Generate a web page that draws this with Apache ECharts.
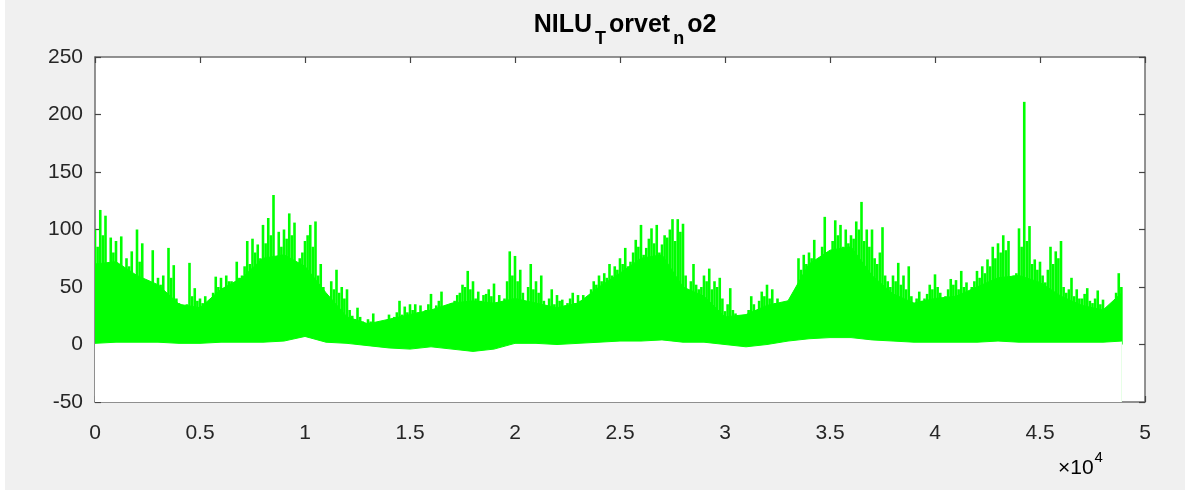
<!DOCTYPE html>
<html><head><meta charset="utf-8">
<script src="https://cdn.jsdelivr.net/npm/echarts@6/dist/echarts.min.js"></script>
<style>html,body{margin:0;padding:0;background:#f0f0f0;}#c{width:1185px;height:490px;}</style>
</head><body><div id="c"></div>
<script>
// ---- data ----
const peakStep = 250; // sample index spacing of the spike readings
// tallest spike in each 250-sample slot (slot start)
const peaks = [
 100,117,112,93,90,94,75,81,100,88,56,82,58,60,84,69,36,33,71,49,
 40,42,33,59,58,60,55,72,60,90,92,87,104,110,130,98,100,114,106,75,
 90,104,107,70,43,55,65,50,48,25,32,20,22,27,19,20,26,24,38,33,
 35,35,34,30,44,34,46,34,36,43,52,64,55,46,43,48,53,43,40,81,
 77,65,36,70,55,60,33,48,43,39,36,45,43,43,40,55,60,62,70,68,
 75,84,72,91,104,84,101,104,87,93,109,109,105,46,70,48,60,66,55,58,
 29,49,27,19,20,42,30,46,52,48,40,22,35,25,75,78,80,91,72,111,
 72,108,104,100,95,107,124,100,100,70,102,55,60,71,60,68,35,46,40,52,
 61,45,42,57,56,64,54,50,64,68,74,85,88,95,90,60,101,211,103,74,
 72,54,85,81,90,45,58,48,40,49,36,47,39,28,34,62
];
// secondary spike level in the middle of each slot
const subPeaks = [
 85,95,28,80,70,65,68,60,72,55,50,48,52,45,58,40,30,35,42,38,
 36,30,45,50,48,55,50,58,68,70,80,75,88,95,50,85,92,95,70,80,
 95,85,60,50,40,48,45,40,30,22,24,18,20,18,17,19,22,28,26,28,
 30,28,26,35,30,38,30,32,38,45,50,48,40,38,44,42,36,34,55,60,
 55,45,50,48,45,38,40,35,38,34,40,36,38,30,48,52,55,58,60,65,
 70,68,80,85,78,92,88,80,95,100,90,98,60,55,52,50,55,48,50,40,
 35,30,22,18,30,35,38,42,40,36,30,25,28,40,65,70,75,68,85,80,
 90,95,85,88,92,100,90,85,75,80,60,50,55,52,48,42,40,38,44,48,
 50,40,48,52,48,50,45,55,58,62,68,75,80,82,55,62,85,90,70,65,
 60,65,70,75,50,48,42,40,44,38,40,35,30,32,45,50
];
// solid (dense) part of the trace: top and bottom, every 1000 samples
const bandX = [0,1000,2000,3000,4000,5000,6000,7000,8000,9000,10000,11000,12000,13000,14000,15000,16000,17000,18000,19000,20000,21000,22000,23000,24000,25000,26000,27000,28000,29000,30000,31000,32000,33000,34000,35000,36000,37000,38000,39000,40000,41000,42000,43000,44000,45000,46000,47000,48000,48900];
const bandTop = [70,72,60,52,35,32,48,58,75,78,68,45,24,18,22,26,30,36,38,36,40,36,32,36,50,62,75,78,50,42,24,26,34,38,70,82,85,60,44,36,40,42,50,58,60,54,42,34,30,45];
const bandLow = [1,2,2,2,1,1,2,2,2,3,7,2,1,-1,-3,-4,-2,-4,-6,-4,1,1,0,1,2,3,3,4,2,2,0,-2,0,3,5,6,6,4,3,2,2,2,2,3,2,2,2,2,2,3];

const GREEN = '#00ff00';
const topSeries = bandX.map((x,i)=>[x,bandTop[i]]);
const lowSeries = bandX.map((x,i)=>[x,bandLow[i]]);
const spikeSeries = [];
peaks.forEach((v,i)=>{ spikeSeries.push([i*peakStep, v]); spikeSeries.push([i*peakStep + peakStep/2, subPeaks[i]]); });

const chart = echarts.init(document.getElementById('c'));
const FF = 'Liberation Sans, Arial, sans-serif';
const labelFont = {fontFamily:FF, fontSize:21, color:'#262626'};
const axLine = {show:true, onZero:false, lineStyle:{color:'#6f6f6f', width:1.5}};
const tick = {show:true, inside:true, length:6, lineStyle:{color:'#444', width:1.2}};
const xBase = {type:'value', min:0, max:50000, interval:5000, splitLine:{show:false}, axisLine:axLine, axisTick:tick};
const yBase = {type:'value', min:-50, max:250, interval:50, splitLine:{show:false}, axisLine:axLine, axisTick:tick};
chart.setOption({
  animation:false,
  backgroundColor:'#f0f0f0',
  title:{
    left:620, top:8, textAlign:'center',
    text:'{b|NILU}{s|T}{b|orvet}{s|n}{b|o2}',
    textStyle:{rich:{
      b:{fontFamily:FF, fontWeight:'bold', fontSize:25, color:'#000', lineHeight:26, verticalAlign:'top'},
      s:{fontFamily:FF, fontWeight:'bold', fontSize:18, color:'#000', lineHeight:18, padding:[17,3,0,3], verticalAlign:'top'}
    }}
  },
  graphic:[
    {type:'rect', left:0, top:0, shape:{width:5, height:490}, style:{fill:'#ffffff'}, silent:true},
    {type:'text', left:1058, top:450, style:{
      text:'{a|×10}{p|4}',
      rich:{
        a:{fontFamily:FF, fontSize:21, color:'#262626', lineHeight:28, verticalAlign:'bottom'},
        p:{fontFamily:FF, fontSize:15, color:'#262626', lineHeight:15, padding:[0,0,14,1], verticalAlign:'bottom'}
      }}}
  ],
  grid:{left:95, right:40, top:57, bottom:88, show:true, backgroundColor:'#ffffff', borderWidth:0},
  xAxis:[
    Object.assign({}, xBase, {position:'bottom', axisLabel:Object.assign({margin:21, formatter:v=>String(+(v/10000).toFixed(1))}, labelFont)}),
    Object.assign({}, xBase, {position:'top', axisLabel:{show:false}})
  ],
  yAxis:[
    Object.assign({}, yBase, {position:'left', axisLabel:Object.assign({margin:12, formatter:v=>String(v)}, labelFont)}),
    Object.assign({}, yBase, {position:'right', axisLabel:{show:false}})
  ],
  series:[
    {type:'custom', data:spikeSeries, clip:true, z:2,
     encode:{x:0, y:1},
     renderItem:function(params, api){
       const x = api.value(0), v = api.value(1);
       const top = api.coord([x, v]);
       const base = api.coord([x, 0]);
       return {type:'rect', shape:{x:top[0]-1.3, y:top[1], width:2.6, height:base[1]-top[1]}, style:{fill:GREEN}};
     }},
    {type:'line', data:topSeries, symbol:'none', lineStyle:{width:1, color:GREEN}, areaStyle:{color:GREEN, opacity:1, origin:'start'}, z:3},
    {type:'line', data:lowSeries, symbol:'none', lineStyle:{width:1, color:GREEN}, areaStyle:{color:'#ffffff', opacity:1, origin:'start'}, z:4}
  ]
});
</script></body></html>
